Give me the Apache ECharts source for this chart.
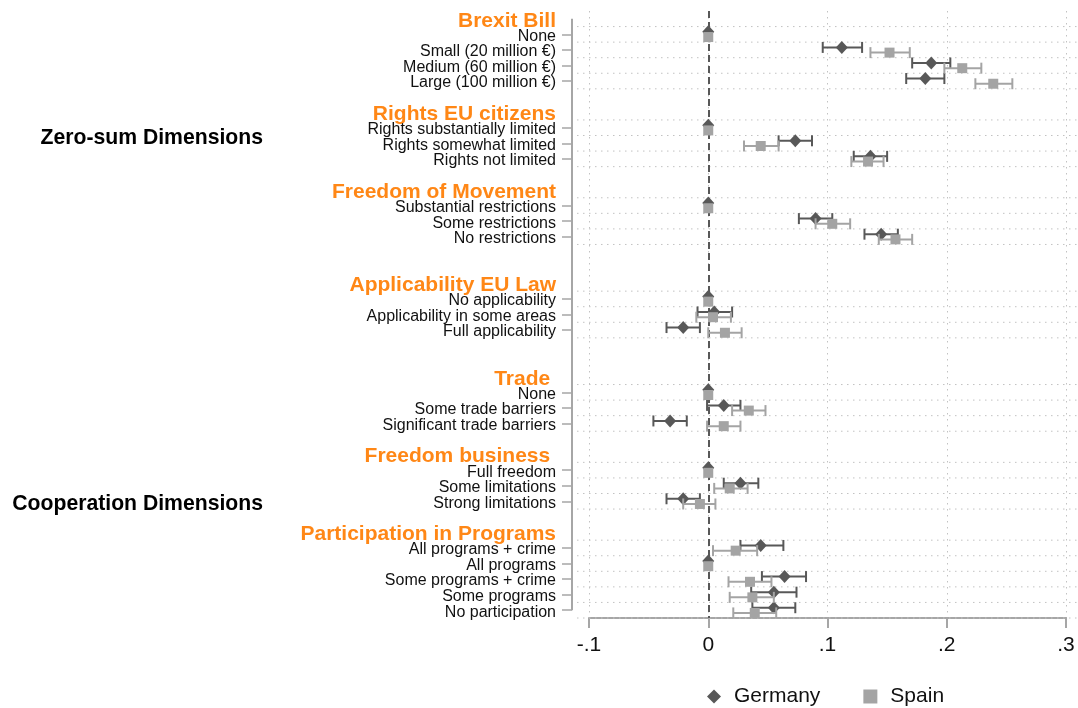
<!DOCTYPE html>
<html>
<head>
<meta charset="utf-8">
<script src="https://cdn.jsdelivr.net/npm/echarts@6/dist/echarts.min.js"></script>
<style>
  html, body { margin: 0; padding: 0; background: #fff; }
  #chart { width: 1078px; height: 708px; }
</style>
</head>
<body>
<div id="chart"></div>
<script>
// ---- Data -------------------------------------------------------------
const groupTitles = [
  'Brexit Bill', 'Rights EU citizens', 'Freedom of Movement',
  'Applicability EU Law', 'Trade ', 'Freedom business ', 'Participation in Programs'
];
const groupLevels = [
  ['None', 'Small (20 million €)', 'Medium (60 million €)', 'Large (100 million €)'],
  ['Rights substantially limited', 'Rights somewhat limited', 'Rights not limited'],
  ['Substantial restrictions', 'Some restrictions', 'No restrictions'],
  ['No applicability', 'Applicability in some areas', 'Full applicability'],
  ['None', 'Some trade barriers', 'Significant trade barriers'],
  ['Full freedom', 'Some limitations', 'Strong limitations'],
  ['All programs + crime', 'All programs', 'Some programs + crime', 'Some programs', 'No participation']
];
const dimensionNames = ['Zero-sum Dimensions', 'Cooperation Dimensions'];
const dimensionGroupRange = [[0, 2], [4, 6]];

// Point estimates and 95% confidence bounds (reference levels: 0, no interval)
const germanyEst  = [0, .112, .187, .182,  0, .073, .136,  0, .090, .145,  0, .005, -.021,  0, .013, -.032,  0, .027, -.021,  .044, 0, .064, .055, .055];
const germanyLow  = [null, .096, .171, .166,  null, .059, .122,  null, .076, .131,  null, -.009, -.035,  null, -.001, -.046,  null, .013, -.035,  .027, null, .045, .036, .037];
const germanyHigh = [null, .129, .203, .198,  null, .087, .150,  null, .104, .159,  null, .020, -.007,  null, .027, -.018,  null, .042, -.007,  .063, null, .082, .074, .073];
const spainEst    = [0, .152, .213, .239,  0, .044, .134,  0, .104, .157,  0, .004, .014,  0, .034, .013,  0, .018, -.007,  .023, 0, .035, .037, .039];
const spainLow    = [null, .136, .198, .224,  null, .030, .120,  null, .090, .143,  null, -.010, .000,  null, .020, -.001,  null, .005, -.021,  .004, null, .017, .018, .021];
const spainHigh   = [null, .169, .229, .255,  null, .059, .147,  null, .119, .171,  null, .019, .028,  null, .048, .027,  null, .033, .006,  .041, null, .053, .055, .057];

const xTickMin = -0.1, xTickMax = 0.3, xTickStep = 0.1;

// ---- Layout ------------------------------------------------------------
const blankRowsAfter = [1, 1, 2, 2, 1, 1, 0];
const FONT = '"Liberation Sans", Arial, Helvetica, sans-serif';
const ORANGE = '#ff8716';
const GERMANY_COLOR = '#585858';
const SPAIN_COLOR = '#a4a4a4';
const AXIS_COLOR = '#a6a6a6';
const GRID_COLOR = '#c2c2c2';
const GERMANY_SHIFT = -2.5;   // px, Germany drawn just above the row
const SPAIN_SHIFT = 2.7;      // px, Spain drawn just below the row
const DIM_LABEL_RIGHT = 263;
const DIM_LABEL_DROP = 2.5;

// Build the row list: group header, its levels, then spacer rows
const rowLabels = [];
const rowKind = [];
const levelRow = [];
const groupSpan = [];
groupTitles.forEach(function (title, g) {
  rowLabels.push(title); rowKind.push('h');
  const first = rowLabels.length;
  groupLevels[g].forEach(function (lv) {
    levelRow.push(rowLabels.length);
    rowLabels.push(lv); rowKind.push('l');
  });
  groupSpan.push([first, rowLabels.length - 1]);
  for (let i = 0; i < blankRowsAfter[g]; i++) { rowLabels.push(''); rowKind.push('b'); }
});

// Dotted horizontal rules around every level row
const ruleData = [];
groupSpan.forEach(function (s) {
  for (let r = s[0]; r <= s[1]; r++) ruleData.push([0, r, -1]);
  ruleData.push([0, s[1], 1]);
});

function ciData(low, high) {
  const out = [];
  low.forEach(function (lo, i) {
    if (lo != null) out.push([lo, high[i], levelRow[i]]);
  });
  return out;
}
function pointData(est) {
  return est.map(function (v, i) { return [v, levelRow[i]]; });
}

function ciRenderer(shift, color) {
  return function (params, api) {
    const row = api.value(2);
    const yc = api.coord([0, row])[1] + shift;
    const x1 = api.coord([api.value(0), row])[0];
    const x2 = api.coord([api.value(1), row])[0];
    const cap = 5.5;
    const style = { stroke: color, lineWidth: 2, fill: null };
    return {
      type: 'group',
      children: [
        { type: 'line', shape: { x1: x1, y1: yc, x2: x2, y2: yc }, style: style },
        { type: 'line', shape: { x1: x1, y1: yc - cap, x2: x1, y2: yc + cap }, style: style },
        { type: 'line', shape: { x1: x2, y1: yc - cap, x2: x2, y2: yc + cap }, style: style }
      ]
    };
  };
}

const chart = echarts.init(document.getElementById('chart'), null, { renderer: 'canvas' });

chart.setOption({
  backgroundColor: '#fff',
  animation: false,
  textStyle: { fontFamily: FONT },
  grid: { left: 589, right: 12, top: 11, bottom: 90, outerBoundsMode: 'none', containLabel: false },
  legend: {
    data: [
      { name: 'Germany', icon: 'diamond' },
      { name: 'Spain', icon: 'rect' }
    ],
    left: 707, top: 686, padding: 0,
    itemGap: 43, itemWidth: 14, itemHeight: 14,
    textStyle: { fontSize: 21, color: '#111', fontFamily: FONT, padding: [0, 0, 0, 8] }
  },
  xAxis: {
    type: 'value',
    min: xTickMin, max: xTickMax, interval: xTickStep,
    axisLine: { show: true, onZero: false, lineStyle: { color: AXIS_COLOR, width: 2 } },
    axisTick: { show: true, length: 10, lineStyle: { color: AXIS_COLOR, width: 2 } },
    axisLabel: {
      fontSize: 21, color: '#111', margin: 17, fontFamily: FONT,
      formatter: function (v) {
        return String(+v.toFixed(2)).replace(/^(-?)0\./, '$1.');
      }
    },
    splitLine: { show: true, lineStyle: { color: GRID_COLOR, width: 1, type: [1.5, 4.5] } }
  },
  yAxis: {
    type: 'category',
    data: rowLabels,
    inverse: true,
    offset: 17,
    axisLine: { show: false, onZero: false },
    axisTick: {
      show: true, alignWithLabel: true, length: 10,
      interval: function (i) { return rowKind[i] === 'l'; },
      lineStyle: { color: AXIS_COLOR, width: 1.5 }
    },
    axisLabel: {
      interval: 0, margin: 16,
      formatter: function (v, i) {
        if (rowKind[i] === 'h') return '{h|' + v + '}';
        if (rowKind[i] === 'l') return '{l|' + v + '}';
        return '';
      },
      rich: {
        h: { fontSize: 21, fontWeight: 'bold', color: ORANGE, fontFamily: FONT, padding: [4, 0, 0, 0] },
        l: { fontSize: 16, color: '#111', fontFamily: FONT, padding: [4, 0, 0, 0] }
      }
    },
    splitLine: { show: false }
  },
  series: [
    {
      name: 'rules', type: 'custom', z: 1, silent: true,
      data: ruleData, encode: { x: 0, y: 1 },
      renderItem: function (params, api) {
        const cs = params.coordSys;
        const row = api.value(1);
        const band = api.size([0, 1])[1];
        const y = api.coord([0, row])[1] + api.value(2) * band / 2;
        return {
          type: 'line',
          shape: { x1: cs.x - 12, y1: y, x2: cs.x + cs.width + 12, y2: y },
          style: { stroke: GRID_COLOR, lineWidth: 1, lineDash: [1.5, 4.5] }
        };
      }
    },
    {
      name: 'yaxisline', type: 'custom', z: 2, silent: true,
      data: [[0, 0, rowLabels.length - 1]], encode: { x: 0, y: [1, 2] },
      renderItem: function (params, api) {
        const cs = params.coordSys;
        const y1 = api.coord([0, api.value(1)])[1];
        const y2 = api.coord([0, api.value(2)])[1];
        const x = cs.x - 17;
        return {
          type: 'line',
          shape: { x1: x, y1: y1, x2: x, y2: y2 },
          style: { stroke: AXIS_COLOR, lineWidth: 2 }
        };
      }
    },
    {
      name: 'dimensions', type: 'custom', z: 2, silent: true,
      data: dimensionGroupRange.map(function (r) {
        return [0, groupSpan[r[0]][0], groupSpan[r[1]][1]];
      }),
      encode: { x: 0, y: [1, 2] },
      renderItem: function (params, api) {
        const y1 = api.coord([0, api.value(1)])[1];
        const y2 = api.coord([0, api.value(2)])[1];
        return {
          type: 'text',
          x: DIM_LABEL_RIGHT, y: (y1 + y2) / 2 + DIM_LABEL_DROP,
          style: {
            text: dimensionNames[params.dataIndex],
            align: 'right', verticalAlign: 'middle',
            font: 'bold 21.2px ' + FONT, fill: '#000'
          }
        };
      }
    },
    {
      name: 'Germany CI', type: 'custom', z: 3, silent: true,
      data: ciData(germanyLow, germanyHigh), encode: { x: [0, 1], y: 2 },
      renderItem: ciRenderer(GERMANY_SHIFT, GERMANY_COLOR)
    },
    {
      name: 'Germany', type: 'scatter', z: 4,
      symbol: 'diamond', symbolSize: [12, 13], symbolOffset: [0, GERMANY_SHIFT],
      itemStyle: { color: GERMANY_COLOR, opacity: 1 },
      data: pointData(germanyEst),
      markLine: {
        silent: true, symbol: 'none', z: 2,
        label: { show: false },
        lineStyle: { color: GERMANY_COLOR, width: 2, type: [7, 4] },
        data: [{ xAxis: 0 }]
      }
    },
    {
      name: 'Spain CI', type: 'custom', z: 5, silent: true,
      data: ciData(spainLow, spainHigh), encode: { x: [0, 1], y: 2 },
      renderItem: ciRenderer(SPAIN_SHIFT, SPAIN_COLOR)
    },
    {
      name: 'Spain', type: 'scatter', z: 6,
      symbol: 'rect', symbolSize: 10, symbolOffset: [0, SPAIN_SHIFT],
      itemStyle: { color: SPAIN_COLOR, opacity: 1 },
      data: pointData(spainEst)
    }
  ]
});
</script>
</body>
</html>
